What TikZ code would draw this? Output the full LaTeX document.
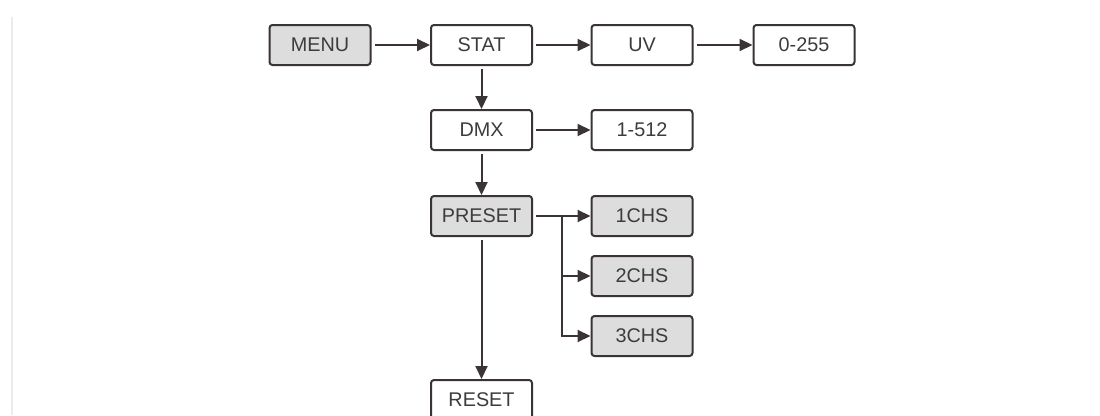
\documentclass[tikz,border=0pt]{standalone}
\usepackage{fontspec}
\setmainfont{Liberation Sans}
\usetikzlibrary{arrows.meta}
\definecolor{ink}{HTML}{3A3435}
\definecolor{txt}{HTML}{3C3C3C}
\definecolor{boxgray}{HTML}{DCDDDC}
\tikzset{
  box/.style={draw=ink, line width=2pt, rounded corners=3pt, minimum width=101pt, minimum height=40pt, inner sep=0pt, text=txt, font=\fontsize{19.8}{20}\selectfont},
  graybox/.style={box, fill=boxgray},
  conn/.style={draw=ink, line width=2pt, -{Triangle[length=13pt,width=12pt]}, shorten <=3pt},
}
\begin{document}
\begin{tikzpicture}[x=1pt,y=-1pt]
\useasboundingbox (0,0) rectangle (1100,415);
\clip (0,0) rectangle (1100,415);
\fill[white] (0,0) rectangle (1100,415);
\draw[draw=black!8, line width=1.5pt] (12,17) -- (12,415);
\node[graybox] (menu) at (320,45) {MENU};
\node[box] (stat) at (481.5,45) {STAT};
\node[box] (uv) at (642,45) {UV};
\node[box] (r255) at (804,45) {0-255};
\node[box] (dmx) at (481.5,130) {DMX};
\node[box] (r512) at (642,130) {1-512};
\node[graybox] (preset) at (481.5,216) {PRESET};
\node[graybox] (c1) at (642,216) {1CHS};
\node[graybox] (c2) at (642,276) {2CHS};
\node[graybox] (c3) at (642,336) {3CHS};
\node[box] (reset) at (481.5,400) {RESET};
\coordinate (br) at (562,216);
\draw[conn] (menu) -- (stat);
\draw[conn] (stat) -- (uv);
\draw[conn] (uv) -- (r255);
\draw[conn] (stat) -- (dmx);
\draw[conn] (dmx) -- (r512);
\draw[conn] (dmx) -- (preset);
\draw[conn] (preset) -- (c1);
\draw[conn, shorten <=0pt] (br) |- (c2);
\draw[conn, shorten <=0pt] (br) |- (c3);
\draw[conn] (preset) -- (reset);
\end{tikzpicture}
\end{document}
